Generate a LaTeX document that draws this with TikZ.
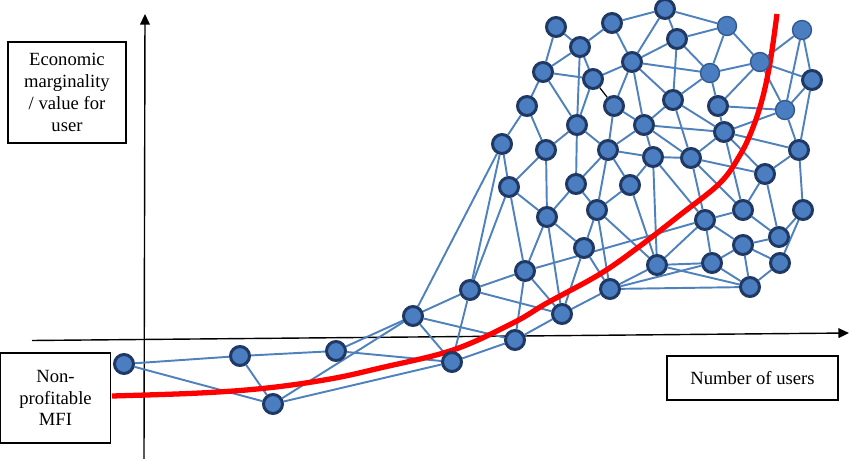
\documentclass[tikz,border=0pt]{standalone}
\usepackage{fontspec}
\setmainfont{Liberation Serif}
\usetikzlibrary{arrows.meta}
\pgfdeclarelayer{background}
\pgfdeclarelayer{middle}
\pgfsetlayers{background,middle,main}
\definecolor{nodeblue}{RGB}{74,126,193}
\definecolor{rimblue}{RGB}{31,56,100}
\definecolor{edgeblue}{RGB}{79,129,189}

\begin{document}
\begin{tikzpicture}[x=0.02cm,y=-0.02cm]
	\tikzset{line/.style={draw,edgeblue,line width=1.1pt}}
	\tikzset{link/.style={draw,black,line width=0.7pt}}
	\tikzset{axis/.style={draw,line width=0.8pt,-{Triangle[length=6pt,width=5.5pt]}}}
	\tikzset{user/.style={shape=circle,fill=nodeblue,draw=rimblue,inner sep=0pt,minimum size=0.38cm,line width=1.7pt}}
	\tikzset{fresh/.style={user,draw=rimblue!55!nodeblue,line width=0.8pt}}
	\tikzset{textbox/.style={draw,line width=0.6pt,align=center,inner sep=0pt,font=\fontsize{10.6}{12.4}\selectfont}}
	\tikzset{redline/.style={draw,red,line width=3pt}}

	\useasboundingbox (0,0) rectangle (850,459);

	% users
	\node[user] (u1) at (556,27) {};
	\node[user] (u2) at (612,23) {};
	\node[user] (u3) at (665,9) {};
	\node[user] (u4) at (580,47) {};
	\node[user] (u5) at (632,62) {};
	\node[user] (u6) at (677,39) {};
	\node[fresh] (u7) at (727,26) {};
	\node[fresh] (u8) at (802,30) {};
	\node[user] (u9) at (543,72) {};
	\node[user] (u10) at (593,79) {};
	\node[fresh] (u11) at (710,73) {};
	\node[fresh] (u12) at (760,62) {};
	\node[user] (u13) at (812,80) {};
	\node[user] (u14) at (527,106) {};
	\node[user] (u15) at (614,106) {};
	\node[user] (u16) at (673,100) {};
	\node[user] (u17) at (718,106) {};
	\node[fresh] (u18) at (785,110) {};
	\node[user] (u19) at (577,125) {};
	\node[user] (u20) at (644,125) {};
	\node[user] (u21) at (724,132) {};
	\node[user] (u22) at (502,144) {};
	\node[user] (u23) at (546,150) {};
	\node[user] (u24) at (608,150) {};
	\node[user] (u25) at (653,157) {};
	\node[user] (u26) at (691,158) {};
	\node[user] (u27) at (799,150) {};
	\node[user] (u28) at (509,187) {};
	\node[user] (u29) at (576,184) {};
	\node[user] (u30) at (630,185) {};
	\node[user] (u31) at (765,174) {};
	\node[user] (u32) at (743,210) {};
	\node[user] (u33) at (803,210) {};
	\node[user] (u34) at (705,220) {};
	\node[user] (u35) at (743,245) {};
	\node[user] (u36) at (779,237) {};
	\node[user] (u37) at (712,263) {};
	\node[user] (u38) at (780,263) {};
	\node[user] (u39) at (750,287) {};
	\node[user] (u40) at (547,217) {};
	\node[user] (u41) at (597,210) {};
	\node[user] (u42) at (584,248) {};
	\node[user] (u43) at (657,265) {};
	\node[user] (u44) at (525,271) {};
	\node[user] (u45) at (610,289) {};
	\node[user] (u46) at (470,290) {};
	\node[user] (u47) at (562,314) {};
	\node[user] (u48) at (413,316) {};
	\node[user] (u49) at (515,340) {};
	\node[user] (u50) at (452,362) {};
	\node[user] (u51) at (124,364) {};
	\node[user] (u52) at (240,356) {};
	\node[user] (u53) at (336,351) {};
	\node[user] (u54) at (273,404) {};

	% boxes
	\node[textbox,minimum width=2.36cm,minimum height=2.02cm] (value) at (67,92.5) {Economic\\marginality\\/ value for\\user};
	\node[textbox,minimum width=2.2cm,minimum height=1.8cm] (mfi) at (55.5,398) {Non-\\profitable\\MFI};
	\node[textbox,minimum width=3.42cm,minimum height=0.88cm] (users) at (752.5,378) {Number of users};

	\coordinate (ybot) at (144,459);
	\coordinate (ytop) at (145,14);
	\coordinate (xleft) at (32,340.5);
	\coordinate (xright) at (849,333);

	\begin{pgfonlayer}{background}
		\path[axis] (ybot) -- (ytop);
		\path[axis] (xleft) -- (xright);

		% top
		\path[line] (u1) to (u4);
		\path[line] (u1) to (u9);
		\path[line] (u2) to (u3);
		\path[line] (u2) to (u4);
		\path[line] (u2) to (u5);
		\path[line] (u3) to (u5);
		\path[line] (u3) to (u6);
		\path[line] (u3) to (u7);
		\path[line] (u4) to (u9);
		\path[line] (u4) to (u10);
		\path[line] (u4) to (u19);
		\path[line] (u9) to (u10);
		\path[line] (u9) to (u14);
		\path[line] (u9) to (u19);
		\path[line] (u5) to (u10);
		\path[line] (u10) to (u19);
		\path[line] (u5) to (u6);
		\path[line] (u5) to (u15);
		\path[line] (u5) to (u20);
		\path[line] (u5) to (u16);
		\path[line] (u5) to (u11);
		\path[line] (u6) to (u7);
		\path[line] (u6) to (u16);
		\path[line] (u6) to (u11);
		\path[line] (u7) to (u11);
		\path[line] (u7) to (u12);
		\path[line] (u11) to (u12);
		\path[line] (u8) to (u12);
		\path[line] (u12) to (u13);
		\path[line] (u12) to (u18);
		\path[line] (u12) to (u17);
		\path[line] (u8) to (u18);
		\path[line] (u8) to (u13);
		\path[line] (u13) to (u18);
		\path[line] (u13) to (u27);
		\path[line] (u11) to (u16);
		\path[line] (u11) to (u17);
		\path[line] (u17) to (u18);
		\path[line] (u17) to (u21);
		\path[line] (u18) to (u21);
		\path[line] (u21) to (u27);
		\path[line] (u18) to (u27);
		\path[line] (u21) to (u26);
		\path[line] (u16) to (u26);
		\path[line] (u16) to (u20);
		\path[line] (u16) to (u21);
		\path[line] (u20) to (u21);
		\path[line] (u20) to (u26);
		\path[line] (u14) to (u22);
		\path[line] (u14) to (u23);
		\path[line] (u19) to (u23);
		\path[line] (u19) to (u24);
		\path[line] (u15) to (u20);
		\path[line] (u15) to (u24);
		\path[line] (u20) to (u24);
		\path[line] (u20) to (u25);
		\path[line] (u24) to (u25);
		\path[line] (u25) to (u26);
		\path[line] (u24) to (u30);
		\path[line] (u25) to (u30);
		\path[line] (u19) to (u29);
		\path[link] (u10) to (u15);

		% middle
		\path[line] (u22) to (u28);
		\path[line] (u22) to (u46);
		\path[line] (u22) to (u48);
		\path[line] (u28) to (u46);
		\path[line] (u28) to (u44);
		\path[line] (u28) to (u40);
		\path[line] (u23) to (u28);
		\path[line] (u23) to (u40);
		\path[line] (u24) to (u29);
		\path[line] (u24) to (u41);
		\path[line] (u29) to (u40);
		\path[line] (u29) to (u41);
		\path[line] (u30) to (u41);
		\path[line] (u30) to (u43);
		\path[line] (u25) to (u43);
		\path[line] (u25) to (u34);
		\path[line] (u26) to (u34);
		\path[line] (u26) to (u31);
		\path[line] (u26) to (u32);
		\path[line] (u21) to (u31);
		\path[line] (u21) to (u32);
		\path[line] (u27) to (u31);
		\path[line] (u27) to (u33);
		\path[line] (u31) to (u32);
		\path[line] (u31) to (u36);
		\path[line] (u32) to (u34);
		\path[line] (u32) to (u36);
		\path[line] (u33) to (u36);
		\path[line] (u33) to (u38);
		\path[line] (u34) to (u35);
		\path[line] (u34) to (u37);
		\path[line] (u34) to (u43);
		\path[line] (u35) to (u36);
		\path[line] (u35) to (u37);
		\path[line] (u35) to (u38);
		\path[line] (u35) to (u39);
		\path[line] (u37) to (u39);
		\path[line] (u38) to (u39);
		\path[line] (u37) to (u43);
		\path[line] (u39) to (u43);
		\path[line] (u43) to (u45);
		\path[line] (u39) to (u45);
		\path[line] (u37) to (u45);
		\path[line] (u41) to (u43);
		\path[line] (u41) to (u45);
		\path[line] (u41) to (u42);
		\path[line] (u40) to (u42);
		\path[line] (u40) to (u44);
		\path[line] (u40) to (u47);
		\path[line] (u42) to (u45);
		\path[line] (u42) to (u47);
		\path[line] (u44) to (u46);
		\path[line] (u44) to (u47);
		\path[line] (u44) to (u49);
		\path[line] (u34) to (u44);
		\path[line] (u46) to (u47);
		\path[line] (u46) to (u48);
		\path[line] (u46) to (u50);
		\path[line] (u45) to (u47);
		\path[line] (u47) to (u49);
		\path[line] (u48) to (u49);
		\path[line] (u48) to (u50);
		\path[line] (u49) to (u50);

		% bottom
		\path[line] (u51) to (u52);
		\path[line] (u51) to (u54);
		\path[line] (u52) to (u53);
		\path[line] (u52) to (u54);
		\path[line] (u48) to (u53);
		\path[line] (u50) to (u53);
		\path[line] (u48) to (u54);
		\path[line] (u50) to (u54);
	\end{pgfonlayer}

	\begin{pgfonlayer}{middle}
		\path[redline] plot[smooth,tension=0.6] coordinates {(112,396) (200,393) (267,388) (330,379) (380,368) (453,350) (513,323) (547,303) (600,274) (640,246) (680,215) (720,183) (740,155) (752,130) (762,100) (770,63) (777,14)};
	\end{pgfonlayer}
\end{tikzpicture}
\end{document}
